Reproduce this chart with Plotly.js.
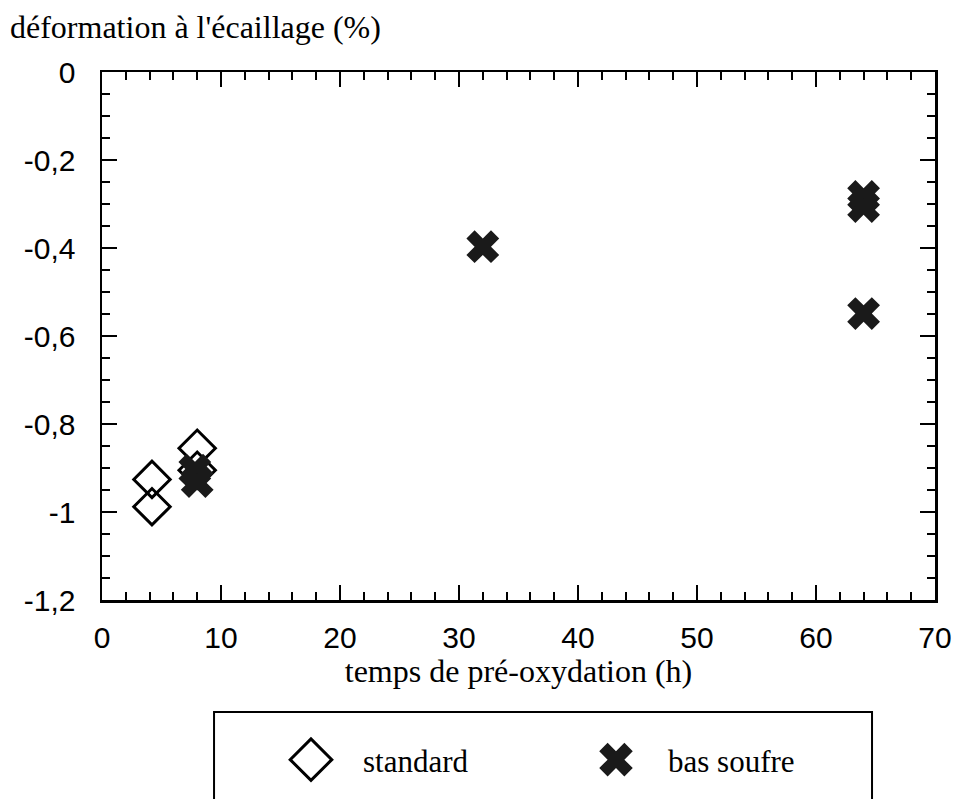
<!DOCTYPE html>
<html>
<head>
<meta charset="utf-8">
<script src="https://cdn.plot.ly/plotly-3.0.1.min.js"></script>
<style>html,body{margin:0;padding:0;background:#fff;}#chart{width:956px;height:799px;}</style>
</head>
<body>
<div id="chart"></div>
<script>
// Data
var standardX = [4.2, 4.2, 8, 8];
var standardY = [-0.926, -0.988, -0.855, -0.905];
var basSoufreX = [7.8, 8, 32, 64, 64, 64];
var basSoufreY = [-0.905, -0.931, -0.397, -0.283, -0.306, -0.549];
var seriesNames = ["standard", "bas soufre"];
var xTickVals = [0, 10, 20, 30, 40, 50, 60, 70];
var xTickText = ["0", "10", "20", "30", "40", "50", "60", "70"];
var yTickVals = [0, -0.2, -0.4, -0.6, -0.8, -1, -1.2];
var yTickText = ["0", "-0,2", "-0,4", "-0,6", "-0,8", "-1", "-1,2"];
var titleText = "déformation à l'écaillage (%)";
var xTitleText = "temps de pré-oxydation (h)";

var serif = "Liberation Serif, Times New Roman, serif";
var sans = "Liberation Sans, Arial, Helvetica, sans-serif";

var traces = [
  {
    x: standardX, y: standardY, name: seriesNames[0], type: "scatter", mode: "markers",
    marker: {symbol: "diamond-open", size: 28, color: "#000", line: {color: "#000", width: 3}},
    cliponaxis: false
  },
  {
    x: basSoufreX, y: basSoufreY, name: seriesNames[1], type: "scatter", mode: "markers",
    marker: {symbol: "x", size: 29, color: "#1a1a1a", line: {width: 0}},
    cliponaxis: false
  }
];

var axisCommon = {
  showgrid: false, zeroline: false, showline: true, linecolor: "#000", linewidth: 2.5,
  mirror: "allticks", ticks: "inside", tickcolor: "#000", tickwidth: 2, ticklen: 15,
  tickfont: {family: sans, size: 30, color: "#000"}, tickmode: "array"
};

var layout = {
  width: 956, height: 799,
  margin: {l: 102, r: 21, t: 72, b: 199},
  paper_bgcolor: "#fff", plot_bgcolor: "#fff",
  showlegend: true,
  title: {text: titleText, font: {family: serif, size: 32, color: "#000"},
          x: 10/956, xanchor: "left", xref: "container", y: 1 - 27/799, yanchor: "middle", yref: "container"},
  xaxis: Object.assign({}, axisCommon, {
    range: [0, 70], tickvals: xTickVals, ticktext: xTickText, ticklabelstandoff: 9,
    minor: {ticks: "inside", dtick: 2, ticklen: 8, tickwidth: 2, tickcolor: "#000"},
    title: {text: xTitleText, font: {family: serif, size: 32, color: "#000"}, standoff: 2}
  }),
  yaxis: Object.assign({}, axisCommon, {
    range: [-1.2, 0], tickvals: yTickVals, ticktext: yTickText, ticklabelstandoff: 18,
    minor: {ticks: "inside", dtick: 0.05, ticklen: 8, tickwidth: 2, tickcolor: "#000"}
  }),
  legend: {
    orientation: "h", x: 0.2653, xanchor: "left", y: -0.303, yanchor: "middle",
    font: {family: serif, size: 31, color: "#000"}, bgcolor: "rgba(0,0,0,0)",
    borderwidth: 0, entrywidth: 260, itemsizing: "trace"
  },
  shapes: [
    {type: "rect", xref: "paper", yref: "paper", x0: 0.1345, x1: 0.9244, y0: -0.2121, y1: -0.40,
     line: {color: "#000", width: 2}, fillcolor: "rgba(0,0,0,0)"}
  ]
};

Plotly.newPlot("chart", traces, layout, {displayModeBar: false, staticPlot: true}).then(function (gd) {
  // enlarge legend symbols to match the reference key (Plotly caps legend marker size)
  gd.querySelectorAll(".legend [clip-path], .legend").forEach(function (el) {
    el.removeAttribute("clip-path");
  });
  var scales = [2.0, 1.85];
  var groups = gd.querySelectorAll(".legend .traces");
  groups.forEach(function (g, i) {
    g.querySelectorAll(".legendpoints path.scatterpts").forEach(function (p) {
      p.setAttribute("transform", "translate(-12,0) scale(" + scales[i] + ")");
      p.style.vectorEffect = "non-scaling-stroke";
    });
  });
});
</script>
</body>
</html>
